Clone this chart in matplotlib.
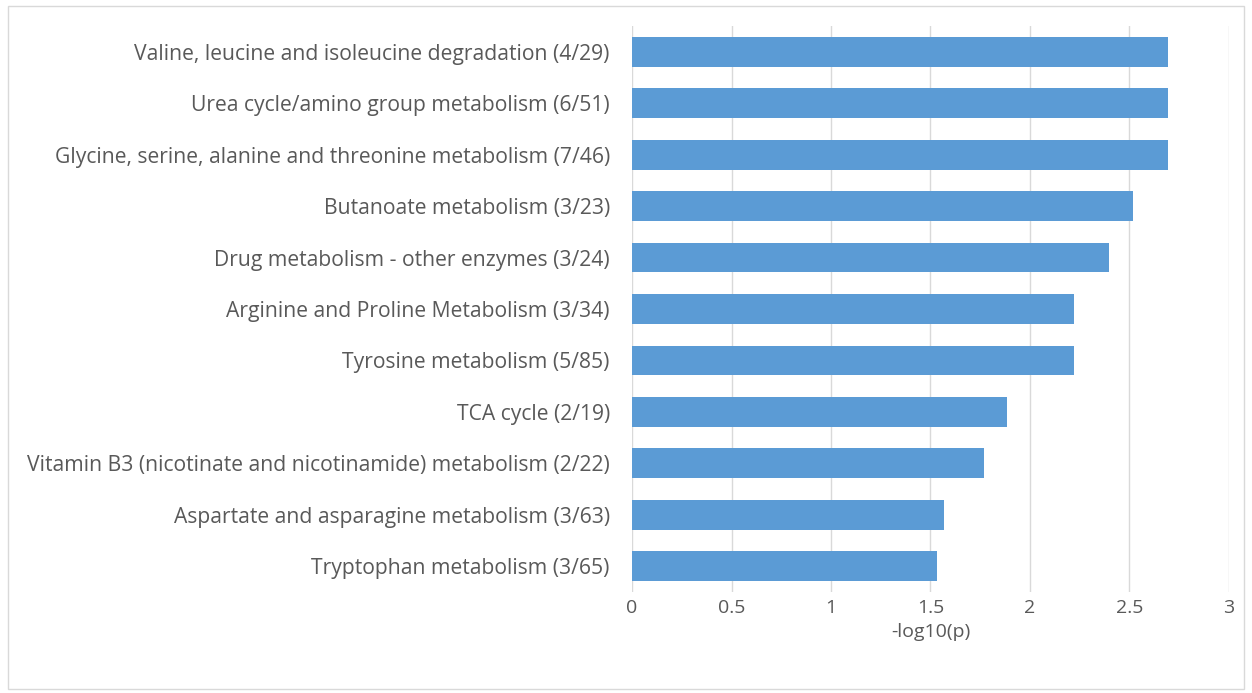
import matplotlib.pyplot as plt
from matplotlib.patches import Rectangle

pathways = [
    "Valine, leucine and isoleucine degradation (4/29)",
    "Urea cycle/amino group metabolism (6/51)",
    "Glycine, serine, alanine and threonine metabolism (7/46)",
    "Butanoate metabolism (3/23)",
    "Drug metabolism - other enzymes (3/24)",
    "Arginine and Proline Metabolism (3/34)",
    "Tyrosine metabolism (5/85)",
    "TCA cycle (2/19)",
    "Vitamin B3 (nicotinate and nicotinamide) metabolism (2/22)",
    "Aspartate and asparagine metabolism (3/63)",
    "Tryptophan metabolism (3/65)",
]
neg_log_p = [2.695, 2.695, 2.695, 2.52, 2.396, 2.22, 2.22, 1.883, 1.769, 1.57, 1.535]
x_ticks = [0, 0.5, 1, 1.5, 2, 2.5, 3]
x_tick_labels = ["0", "0.5", "1", "1.5", "2", "2.5", "3"]

plt.rcParams["font.family"] = ["Open Sans", "DejaVu Sans"]

fig = plt.figure(figsize=(12.52, 6.93), dpi=100)
ax = fig.add_axes([0.5048, 0.1457, 0.4768, 0.8168])

ypos = list(range(len(pathways)))
ax.barh(ypos, neg_log_p, height=0.58, color="#5B9BD5", zorder=3)
ax.set_ylim(len(pathways) - 0.5, -0.5)
ax.set_xlim(0, 3)
ax.set_yticks(ypos)
ax.set_yticklabels(pathways, fontsize=15.2, color="#595959")
ax.set_xticks(x_ticks)
ax.set_xticklabels(x_tick_labels, fontsize=14, color="#595959")
ax.tick_params(length=0, pad=5)
ax.tick_params(axis="y", pad=16)
ax.xaxis.grid(True, color="#d9d9d9", linewidth=1, zorder=0)
for s in ax.spines.values():
    s.set_visible(False)
ax.set_xlabel("-log10(p)", fontsize=14, color="#595959", labelpad=4)

fig.patches.append(Rectangle((0.006, 0.006), 0.988, 0.985, transform=fig.transFigure,
                             fill=False, edgecolor="#d9d9d9", linewidth=1))

plt.savefig("out.png", dpi=100)
